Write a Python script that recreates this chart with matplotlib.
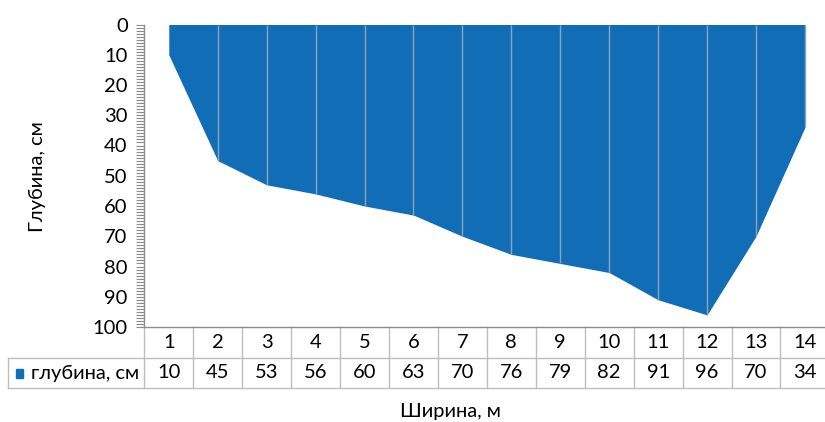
import matplotlib
matplotlib.use("Agg")
import matplotlib.pyplot as plt
from matplotlib.ticker import MultipleLocator
from matplotlib.transforms import blended_transform_factory
from matplotlib.patches import Rectangle

plt.rcParams['font.family'] = ['Lato', 'Noto Sans', 'DejaVu Sans']

# Cross-section of the stream: width position (m) and depth (cm)
widths = list(range(1, 15))
depths = [10, 45, 53, 56, 60, 63, 70, 76, 79, 82, 91, 96, 70, 34]
series_name = "глубина, см"
x_label = "Ширина, м"
y_label = "Глубина, см"

fill_color = "#116EB6"
grid_grey = "#BDBDBD"
axis_grey = "#8C8C8C"
fs = 14.5

W, H = 825, 422
fig = plt.figure(figsize=(W / 100, H / 100), dpi=100)

def fy(py):
    return 1 - py / H

ax_left, ax_right = 144.3, 829.4
ax_top, ax_bottom = 24.5, 327.0
ax = fig.add_axes([ax_left / W, fy(ax_bottom), (ax_right - ax_left) / W,
                   (ax_bottom - ax_top) / H])

ax.fill_between(widths, 0, depths, color=fill_color, linewidth=0, zorder=2)
# thin separators at each measuring point
ax.vlines(widths[1:], 0, depths[1:], color="#8FA3BA", linewidth=1.0, zorder=3)

ax.set_xlim(0.5, 14.5)
ax.set_ylim(100, 0)
ax.yaxis.set_major_locator(MultipleLocator(10))
ax.yaxis.set_minor_locator(MultipleLocator(1))
ax.tick_params(axis='y', which='both', direction='out', length=6, width=0.8,
               color=axis_grey, labelsize=fs, pad=6)
ax.tick_params(axis='x', bottom=False, labelbottom=False)
for side in ("top", "right"):
    ax.spines[side].set_visible(False)
for side in ("left", "bottom"):
    ax.spines[side].set_color(axis_grey)
    ax.spines[side].set_linewidth(1.0)

# data table beneath the plot
tr = blended_transform_factory(ax.transData, fig.transFigure)
row1_top, row1_bot, row2_bot = fy(327.0), fy(358.0), fy(388.0)
for xb in [w - 0.5 for w in widths] + [widths[-1] + 0.5]:
    ax.plot([xb, xb], [row2_bot, row1_top], transform=tr, color=grid_grey,
            linewidth=1.0, clip_on=False)
for yb in (row1_bot, row2_bot):
    fig.add_artist(plt.Line2D([8 / W, 1.01], [yb, yb], color=grid_grey,
                              linewidth=1.0, transform=fig.transFigure))
fig.add_artist(plt.Line2D([8 / W, 8 / W], [row2_bot, row1_bot], color=grid_grey,
                          linewidth=1.0, transform=fig.transFigure))

for w, d in zip(widths, depths):
    ax.text(w, (row1_top + row1_bot) / 2, str(w), transform=tr, ha='center',
            va='center', fontsize=fs, clip_on=False)
    ax.text(w, (row1_bot + row2_bot) / 2, str(d), transform=tr, ha='center',
            va='center', fontsize=fs, clip_on=False)

fig.add_artist(Rectangle((15.5 / W, fy(377.5)), 7 / W, 9 / H, color=fill_color,
                         transform=fig.transFigure))
fig.text(31 / W, (row1_bot + row2_bot) / 2, series_name, ha='left', va='center',
         fontsize=fs)

fig.text(450 / W, fy(411), x_label, ha='center', va='center', fontsize=fs)
fig.text(37 / W, fy(177), y_label, ha='center', va='center', rotation=90,
         fontsize=fs)

fig.savefig("out.png", dpi=100)
